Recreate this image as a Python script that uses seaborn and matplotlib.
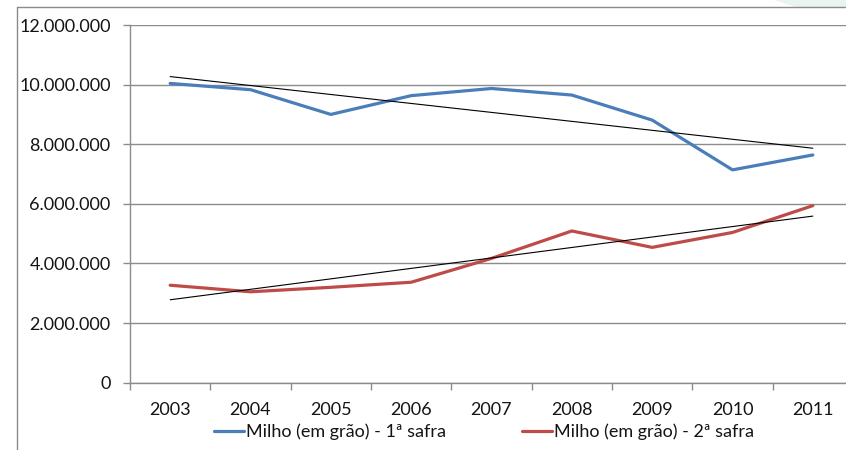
import numpy as np
import pandas as pd
import matplotlib
matplotlib.use("Agg")
import matplotlib.pyplot as plt
from matplotlib.lines import Line2D
from matplotlib.patches import Polygon
from matplotlib.ticker import FuncFormatter, FixedLocator
import seaborn as sns

# Produção de milho em grão por safra (toneladas)
anos = [2003, 2004, 2005, 2006, 2007, 2008, 2009, 2010, 2011]
primeira_safra = [10040000, 9830000, 9000000, 9630000, 9870000, 9650000, 8810000, 7140000, 7640000]
segunda_safra = [3270000, 3050000, 3200000, 3370000, 4170000, 5090000, 4540000, 5040000, 5940000]
series = ["Milho (em grão) - 1ª safra", "Milho (em grão) - 2ª safra"]
cores = ["#4A7EBB", "#BE4B48"]
y_ticks = [0, 2000000, 4000000, 6000000, 8000000, 10000000, 12000000]

df = pd.DataFrame({
    "ano": anos * 2,
    "valor": primeira_safra + segunda_safra,
    "serie": [series[0]] * len(anos) + [series[1]] * len(anos),
})

sns.set_theme(style="white")
plt.rcParams["font.family"] = ["Lato", "DejaVu Sans"]

W, H = 846, 450
fig = plt.figure(figsize=(W / 100, H / 100), dpi=100)
fig.patch.set_facecolor("white")

# plot area in pixel terms: x 130..853, y 25..383
left, right, top, bottom = 130, 853, 25, 382.7
ax = fig.add_axes([left / W, 1 - bottom / H, (right - left) / W, (bottom - top) / H])

ax.set_axisbelow(True)
ax.yaxis.grid(True, color="#8C8C8C", linewidth=1.0)
ax.xaxis.grid(False)

sns.lineplot(data=df, x="ano", y="valor", hue="serie", palette=cores,
             linewidth=2.3, ax=ax, legend=False, zorder=3)

# linear trend lines
for vals in (primeira_safra, segunda_safra):
    sns.regplot(x=np.array(anos), y=np.array(vals), scatter=False, ci=None,
                truncate=True, ax=ax,
                line_kws={"color": "black", "linewidth": 0.8, "zorder": 4})

ax.set_xlim(anos[0] - 0.5, anos[-1] + 0.5)
ax.set_ylim(0, 12000000)
ax.yaxis.set_major_locator(FixedLocator(y_ticks))
ax.yaxis.set_major_formatter(FuncFormatter(lambda v, p: f"{int(v):,}".replace(",", ".")))
ax.set_xticks(anos)
ax.set_xticklabels([str(a) for a in anos])
ax.xaxis.set_minor_locator(FixedLocator([a + 0.5 for a in [anos[0] - 1] + anos]))
ax.set_xlabel("")
ax.set_ylabel("")

for s in ("top", "right"):
    ax.spines[s].set_visible(False)
for s in ("left", "bottom"):
    ax.spines[s].set_color("#8C8C8C")
    ax.spines[s].set_linewidth(1.0)

ax.tick_params(axis="y", which="major", left=True, length=5, width=1.0, color="#8C8C8C",
               pad=9, labelsize=13, labelcolor="#141414")
ax.tick_params(axis="x", which="major", bottom=False, pad=8, labelsize=13, labelcolor="#141414")
ax.tick_params(axis="x", which="minor", bottom=True, length=5, width=1.0, color="#8C8C8C")

handles = [Line2D([0], [0], color=c, linewidth=2.3) for c in cores]
fig.legend(handles, series, loc="center", bbox_to_anchor=(484 / W, 1 - 432 / H),
           ncol=2, frameon=False, fontsize=13, handlelength=1.65, handletextpad=0.12,
           columnspacing=4.2, labelcolor="#141414")

# chart outer border (top and left edges)
fig.add_artist(Line2D([17 / W, 17 / W], [0, 1 - 7 / H], color="#8A8A8A", linewidth=1.0,
                      transform=fig.transFigure))
fig.add_artist(Line2D([17 / W, 1], [1 - 7 / H, 1 - 7 / H], color="#8A8A8A", linewidth=1.0,
                      transform=fig.transFigure))
# light tinted corner at top right
fig.add_artist(Polygon([[775 / W, 1], [1, 1], [1, 1 - 6.5 / H], [795 / W, 1 - 6.5 / H]],
                       closed=True, facecolor="#EAF4EF", edgecolor="none",
                       transform=fig.transFigure))

fig.savefig("out.png", dpi=100, facecolor="white")
